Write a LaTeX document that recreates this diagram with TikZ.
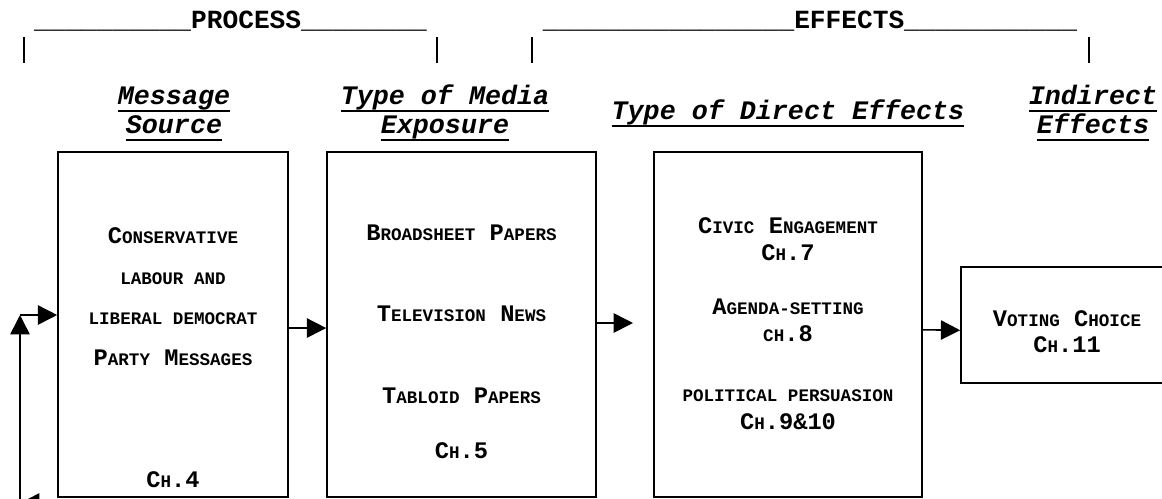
\documentclass[tikz,border=0pt]{standalone}
\usepackage{fontspec}
\setmainfont{Liberation Mono}
\usetikzlibrary{arrows.meta}
\newcommand{\sm}[1]{{\fontsize{10}{12}\selectfont #1}}
\newcommand{\ul}[1]{\setbox0=\hbox{#1}\rlap{\rule[-4.8pt]{\wd0}{1.6pt}}\box0}
\tikzset{
	box/.style={draw, line width=0.9pt, inner sep=0pt},
	boxtxt/.style={font=\fontsize{13.5}{16}\selectfont\bfseries, anchor=base, inner sep=0pt},
	head/.style={font=\fontsize{15.2}{16.5}\selectfont\bfseries\itshape, anchor=base, inner sep=0pt},
	title/.style={font=\fontsize{14.9}{16}\selectfont\bfseries, anchor=base, inner sep=0pt},
	arr/.style={-{Triangle[length=11pt,width=11pt]}, line width=0.9pt},
}
\begin{document}
\begin{tikzpicture}[x=0.2mm, y=-0.2mm]
	\useasboundingbox (0,0) rectangle (1162,498);
	\clip (0,0) rectangle (1162,498);
	% brackets
	\node[title] (proc) at (230.5,28) {\_\_\_\_\_\_\_\_\_\_PROCESS\_\_\_\_\_\_\_\_};
	\node[title] (eff) at (810,28) {\_\_\_\_\_\_\_\_\_\_\_\_\_\_\_\_EFFECTS\_\_\_\_\_\_\_\_\_\_\_};
	\foreach \x in {24,437,532,1089}
		\draw[line width=1.1pt] (\x,37) -- (\x,63);
	% headings
	\node[head] (h1a) at (174,104) {\ul{Message}};
	\node[head] (h1b) at (174,133) {\ul{Source}};
	\node[head] (h2a) at (445,104) {\ul{Type of Media}};
	\node[head] (h2b) at (445,133) {\ul{Exposure}};
	\node[head] (h3) at (788,119) {\ul{Type of Direct Effects}};
	\node[head] (h4a) at (1093,104) {\ul{Indirect}};
	\node[head] (h4b) at (1093,133) {\ul{Effects}};
	% boxes
	\node[box, minimum width=46mm, minimum height=69mm] (src) at (173,324.5) {};
	\node[box, minimum width=53.8mm, minimum height=69mm] (media) at (461.5,324.5) {};
	\node[box, minimum width=53.6mm, minimum height=69mm] (direct) at (788,324.5) {};
	\node[box, minimum width=42.6mm, minimum height=23.2mm] (indirect) at (1067.5,325) {};
	% box texts
	\node[boxtxt] (s1) at (173,243) {C\sm{ONSERVATIVE}};
	\node[boxtxt] (s2) at (173,284) {\sm{LABOUR AND}};
	\node[boxtxt] (s3) at (173,324) {\sm{LIBERAL DEMOCRAT}};
	\node[boxtxt] (s4) at (173,365) {P\sm{ARTY} M\sm{ESSAGES}};
	\node[boxtxt] (s5) at (173,487) {C\sm{H}.4};
	\node[boxtxt] (m1) at (461.5,240) {B\sm{ROADSHEET} P\sm{APERS}};
	\node[boxtxt] (m2) at (461.5,321) {T\sm{ELEVISION} N\sm{EWS}};
	\node[boxtxt] (m3) at (461.5,403) {T\sm{ABLOID} P\sm{APERS}};
	\node[boxtxt] (m4) at (461.5,458) {C\sm{H}.5};
	\node[boxtxt] (d1) at (788,233) {C\sm{IVIC} E\sm{NGAGEMENT}};
	\node[boxtxt] (d2) at (788,260) {C\sm{H}.7};
	\node[boxtxt] (d3) at (788,314) {A\sm{GENDA-SETTING}};
	\node[boxtxt] (d4) at (788,341) {\sm{CH}.8};
	\node[boxtxt] (d5) at (788,401) {\sm{POLITICAL PERSUASION}};
	\node[boxtxt] (d6) at (788,429) {C\sm{H}.9\&10};
	\node[boxtxt] (i1) at (1067,326) {V\sm{OTING} C\sm{HOICE}};
	\node[boxtxt] (i2) at (1067,352) {C\sm{H}.11};
	% arrows
	\coordinate (gap) at (633,323);
	\draw[arr] ([yshift=-2pt]src.east) -- ([yshift=-2pt]media.west);
	\draw[arr] (media.east |- gap) -- (gap);
	\draw[arr] ([yshift=-3pt]direct.east) -- ([yshift=-3pt]indirect.west);
	% feedback loop
	\coordinate (fbr) at (160,503);
	\coordinate (fbb) at (20,503);
	\coordinate (fbc) at (20,315);
	\draw[arr] (fbr) -- (fbb);
	\draw[arr] (fbb) -- (fbc);
	\draw[arr] (fbc) -- (src.west |- fbc);
\end{tikzpicture}
\end{document}
